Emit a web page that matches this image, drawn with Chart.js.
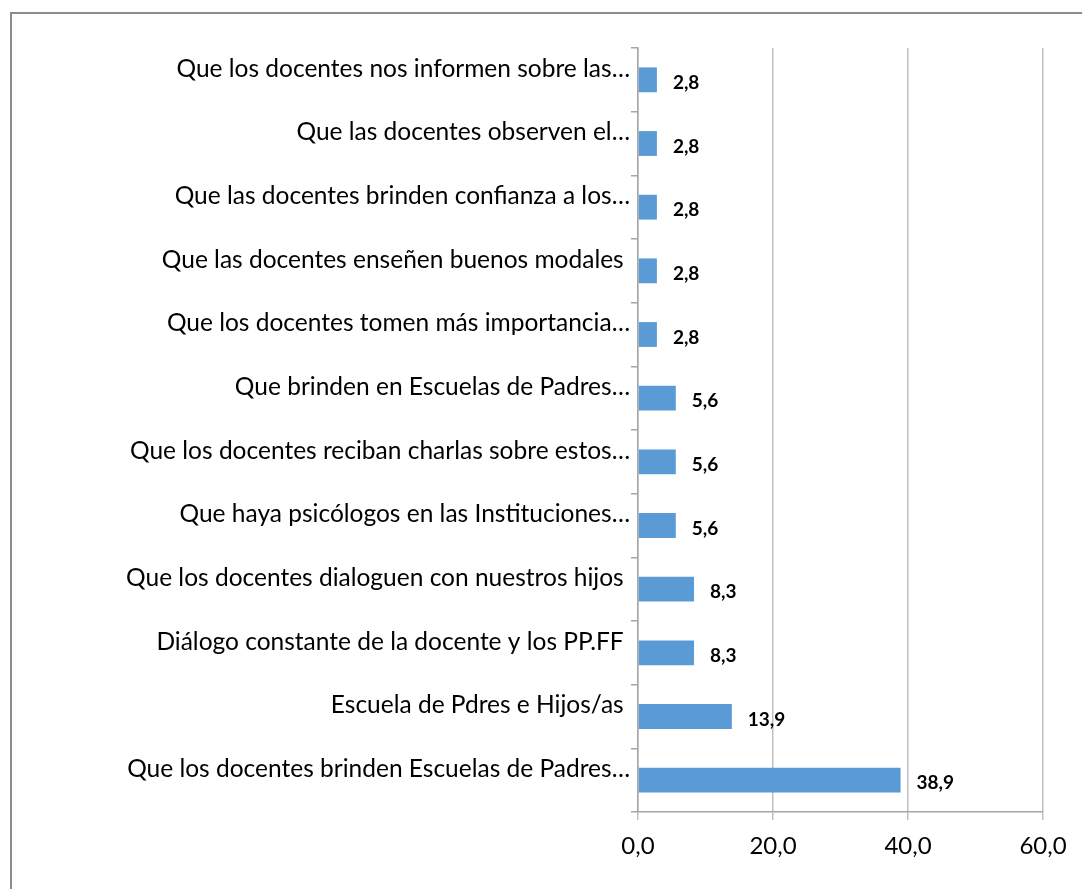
<!DOCTYPE html>
<html>
<head>
<meta charset="utf-8">
<script src="https://cdn.jsdelivr.net/npm/chart.js@4"></script>
<style>
  html,body{margin:0;padding:0;background:#fff;}
  #wrap{position:relative;width:1082px;height:889px;overflow:hidden;}
  #frame{position:absolute;left:10px;top:12px;width:1200px;height:1000px;border-left:2px solid #8c8c8c;border-top:2px solid #8c8c8c;}
  canvas{position:absolute;left:0;top:0;}
</style>
</head>
<body>
<div id="wrap">
  <div id="frame"></div>
  <canvas id="c" width="1082" height="889"></canvas>
</div>
<script>
// categorias (de arriba hacia abajo) y porcentajes
const categorias = [
  'Que los docentes nos informen sobre las\u2026',
  'Que las docentes observen el\u2026',
  'Que las docentes brinden confianza a los\u2026',
  'Que las docentes ense\u00f1en buenos modales ',
  'Que los docentes tomen m\u00e1s importancia\u2026',
  'Que brinden en Escuelas de Padres\u2026',
  'Que los docentes reciban charlas sobre estos\u2026',
  'Que haya psic\u00f3logos en las Instituciones\u2026',
  'Que los docentes dialoguen con nuestros hijos ',
  'Di\u00e1logo constante de la docente y los PP.FF ',
  'Escuela de Pdres e Hijos/as ',
  'Que los docentes brinden Escuelas de Padres\u2026'
];
const porcentajes = [2.8, 2.8, 2.8, 2.8, 2.8, 5.6, 5.6, 5.6, 8.3, 8.3, 13.9, 38.9];
const ejeMin = 0, ejeMax = 60, ejePaso = 20;

const fmt = v => v.toFixed(1).replace('.', ',');

const etiquetas = {
  id: 'etiquetas',
  afterDatasetsDraw(chart){
    const ctx = chart.ctx;
    const meta = chart.getDatasetMeta(0);
    ctx.save();
    ctx.font = 'bold 19px Lato';
    ctx.fillStyle = '#000';
    ctx.textAlign = 'left';
    ctx.textBaseline = 'middle';
    meta.data.forEach((bar, i) => {
      ctx.fillText(fmt(porcentajes[i]), bar.x + 16, bar.y + 3);
    });
    ctx.restore();
  }
};

new Chart(document.getElementById('c'), {
  type: 'bar',
  data: {
    labels: categorias,
    datasets: [{
      data: porcentajes,
      backgroundColor: '#5b9bd5',
      borderWidth: 0,
      barPercentage: 0.39,
      categoryPercentage: 1
    }]
  },
  options: {
    indexAxis: 'y',
    responsive: false,
    animation: false,
    devicePixelRatio: 1,
    layout: { padding: { top: 48, right: 39, left: 0, bottom: 0 } },
    plugins: { legend: { display: false }, tooltip: { enabled: false } },
    scales: {
      x: {
        min: ejeMin, max: ejeMax,
        afterFit(s){ s.height = 77; },
        ticks: { stepSize: ejePaso, callback: v => fmt(v), color: '#000', font: { family: 'Lato', size: 24 }, padding: 12, maxRotation: 0 },
        grid: { color: '#bfbfbf', lineWidth: 1.5, tickLength: 8 },
        border: { color: '#a6a6a6', width: 1.5 }
      },
      y: {
        afterFit(s){ s.width = 638; },
        ticks: { color: '#000', font: { family: 'Lato', size: 24.5 }, labelOffset: -11, padding: 1, autoSkip: false },
        grid: { drawOnChartArea: false, color: '#a6a6a6', lineWidth: 1.5, tickLength: 7 },
        border: { color: '#a6a6a6', width: 1.5 }
      }
    }
  },
  plugins: [etiquetas]
});
</script>
</body>
</html>
